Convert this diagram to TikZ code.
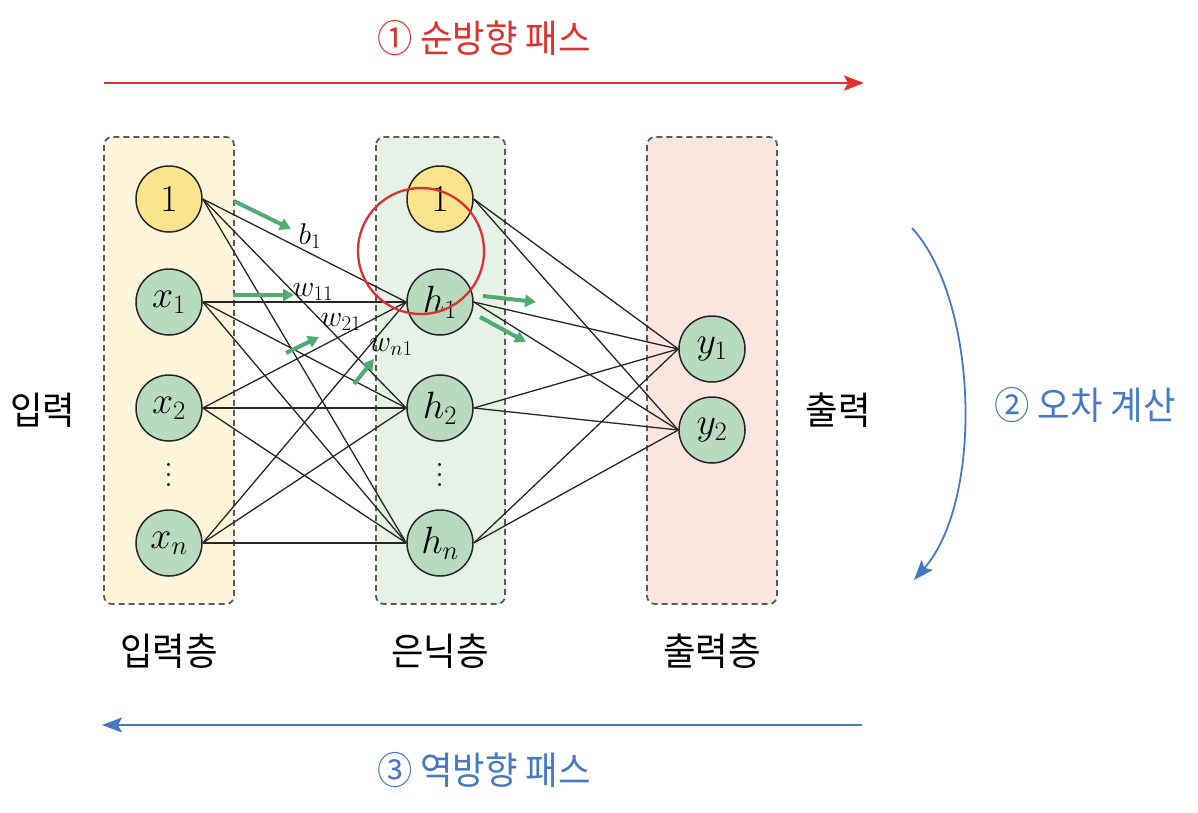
\RequirePackage{fix-cm}
\documentclass[tikz,border=0pt]{standalone}
\usepackage{fontspec}
\newfontfamily\kr[FakeStretch=0.93]{Noto Sans CJK KR}
\usetikzlibrary{arrows.meta}
\definecolor{inbox}{RGB}{255,245,218}
\definecolor{hidbox}{RGB}{230,242,232}
\definecolor{outbox}{RGB}{250,230,222}
\definecolor{yelnode}{RGB}{252,228,140}
\definecolor{grnnode}{RGB}{184,218,190}
\definecolor{boxline}{RGB}{90,90,90}
\definecolor{garrow}{RGB}{78,172,112}
\definecolor{fwdred}{RGB}{222,48,45}
\definecolor{bwdblue}{RGB}{70,120,195}
\newcommand{\bigvdots}{\vbox{\baselineskip=10pt\lineskiplimit=-100pt\hbox{.}\hbox{.}\hbox{.}}}
\tikzset{
  layerbox/.style={draw=boxline, line width=1.8pt, dash pattern=on 6pt off 4pt, rounded corners=8pt},
  neuron/.style={circle, draw=black!85, line width=1.5pt, minimum size=66pt, inner sep=0pt, font=\fontsize{38}{40}\selectfont},
  bias/.style={neuron, fill=yelnode},
  unit/.style={neuron, fill=grnnode},
  conn/.style={draw=black!85, line width=1.3pt},
  garr/.style={draw=garrow, line width=4pt, -{Triangle[length=11pt,width=12pt]}},
  wlabel/.style={font=\fontsize{30}{32}\selectfont, inner sep=0pt},
  krtext/.style={font=\kr\fontsize{38}{40}\selectfont, inner sep=0pt},
  vdotsnode/.style={inner sep=0pt, font=\fontsize{36}{10}\selectfont}
}
\begin{document}
\begin{tikzpicture}[x=1pt,y=-1pt]
\useasboundingbox (0,0) rectangle (1198,812);
% layer boxes
\draw[layerbox, fill=inbox] (104,137) rectangle (234,604);
\draw[layerbox, fill=hidbox] (376,137) rectangle (505,604);
\draw[layerbox, fill=outbox] (647,137) rectangle (777,604);
% nodes
\node[bias] (I0) at (169,199) {$1$};
\node[unit] (I1) at (169,302) {$x_1$};
\node[unit] (I2) at (169,408) {$x_2$};
\node[vdotsnode] (Id) at (169,475) {\bigvdots};
\node[unit] (In) at (169,543) {$x_n$};
\node[bias] (H0) at (440,199) {$1$};
\node[unit] (H1) at (440,302) {$h_1$};
\node[unit] (H2) at (440,408) {$h_2$};
\node[vdotsnode] (Hd) at (440,475) {\bigvdots};
\node[unit] (Hn) at (440,543) {$h_n$};
\node[unit] (Y1) at (712,349) {$y_1$};
\node[unit] (Y2) at (712,430) {$y_2$};
% connections
\foreach \a in {I0,I1,I2,In}
  \foreach \b in {H1,H2,Hn}
    \draw[conn] (\a.east) -- (\b.west);
\foreach \a in {H0,H1,H2,Hn}
  \foreach \b in {Y1,Y2}
    \draw[conn] (\a.east) -- (\b.west);
% green arrows
\coordinate (ga1s) at (234,201); \coordinate (ga1e) at (291,229);
\coordinate (ga2s) at (233,295); \coordinate (ga2e) at (294,295);
\coordinate (ga3s) at (286,353); \coordinate (ga3e) at (319,337);
\coordinate (ga4s) at (354,384); \coordinate (ga4e) at (374,359);
\coordinate (ga5s) at (483,296); \coordinate (ga5e) at (536,302);
\coordinate (ga6s) at (480,317); \coordinate (ga6e) at (526,342);
\draw[garr] (ga1s) -- (ga1e);
\draw[garr] (ga2s) -- (ga2e);
\draw[garr] (ga3s) -- (ga3e);
\draw[garr] (ga4s) -- (ga4e);
\draw[garr] (ga5s) -- (ga5e);
\draw[garr] (ga6s) -- (ga6e);
% weight labels
\node[wlabel] (lb1) at (310,236) {$b_1$};
\node[wlabel] (lw11) at (313,292) {$w_{11}$};
\node[wlabel] (lw21) at (341,322) {$w_{21}$};
\node[wlabel] (lwn1) at (391,347) {$w_{n1}$};
% red circle highlight
\draw[draw=fwdred, line width=2.3pt] (421,251) circle (63);
% side labels
\node[krtext] (tin) at (43,410) {입력};
\node[krtext] (tout) at (838,410) {출력};
\node[krtext] (lin) at (169,651) {입력층};
\node[krtext] (lhid) at (440,651) {은닉층};
\node[krtext] (lout) at (712,651) {출력층};
% forward pass
\coordinate (fs) at (104,83); \coordinate (fe) at (864,83);
\draw[draw=fwdred, line width=1.8pt, -{Stealth[length=20pt,width=15pt,inset=4pt]}] (fs) -- (fe);
\node[krtext, text=fwdred] (tfwd) at (484,38) {① 순방향 패스};
% error computation
\coordinate (es) at (912,228); \coordinate (ee) at (914,580);
\draw[draw=bwdblue, line width=1.8pt, -{Stealth[length=20pt,width=15pt,inset=4pt]}] (es) .. controls (978,300) and (984,500) .. (ee);
\node[krtext, text=bwdblue] (terr) at (1085,405) {② 오차 계산};
% backward pass
\coordinate (bs) at (862,725); \coordinate (be) at (102,725);
\draw[draw=bwdblue, line width=1.8pt, -{Stealth[length=20pt,width=15pt,inset=4pt]}] (bs) -- (be);
\node[krtext, text=bwdblue] (tbwd) at (484,770) {③ 역방향 패스};
\end{tikzpicture}
\end{document}
